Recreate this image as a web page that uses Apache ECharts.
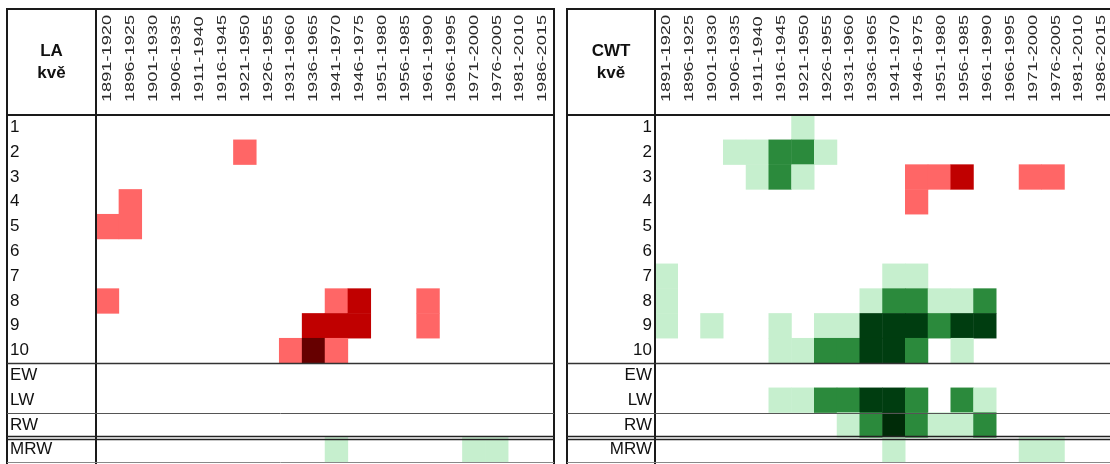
<!DOCTYPE html>
<html>
<head>
<meta charset="utf-8">
<script src="https://cdn.jsdelivr.net/npm/echarts@6/dist/echarts.min.js"></script>
<style>
  html, body { margin: 0; padding: 0; background: #ffffff; }
  #chart { width: 1110px; height: 464px; }
</style>
</head>
<body>
<div id="chart"></div>
<script>
// 30-year windows shown as columns
const periods = [
  '1891-1920', '1896-1925', '1901-1930', '1906-1935', '1911-1940',
  '1916-1945', '1921-1950', '1926-1955', '1931-1960', '1936-1965',
  '1941-1970', '1946-1975', '1951-1980', '1956-1985', '1961-1990',
  '1966-1995', '1971-2000', '1976-2005', '1981-2010', '1986-2015'
];

// rows: ten-day periods 1..10 and wood/ring variables
const rowNames = ['1', '2', '3', '4', '5', '6', '7', '8', '9', '10', 'EW', 'LW', 'RW', 'MRW'];

// significance level per cell: negative = red shades, positive = green shades, 0 = empty
const laLevels = [
  [ 0, 0, 0, 0, 0, 0, 0, 0, 0, 0, 0, 0, 0, 0, 0, 0, 0, 0, 0, 0],
  [ 0, 0, 0, 0, 0, 0,-1, 0, 0, 0, 0, 0, 0, 0, 0, 0, 0, 0, 0, 0],
  [ 0, 0, 0, 0, 0, 0, 0, 0, 0, 0, 0, 0, 0, 0, 0, 0, 0, 0, 0, 0],
  [ 0,-1, 0, 0, 0, 0, 0, 0, 0, 0, 0, 0, 0, 0, 0, 0, 0, 0, 0, 0],
  [-1,-1, 0, 0, 0, 0, 0, 0, 0, 0, 0, 0, 0, 0, 0, 0, 0, 0, 0, 0],
  [ 0, 0, 0, 0, 0, 0, 0, 0, 0, 0, 0, 0, 0, 0, 0, 0, 0, 0, 0, 0],
  [ 0, 0, 0, 0, 0, 0, 0, 0, 0, 0, 0, 0, 0, 0, 0, 0, 0, 0, 0, 0],
  [-1, 0, 0, 0, 0, 0, 0, 0, 0, 0,-1,-2, 0, 0,-1, 0, 0, 0, 0, 0],
  [ 0, 0, 0, 0, 0, 0, 0, 0, 0,-2,-2,-2, 0, 0,-1, 0, 0, 0, 0, 0],
  [ 0, 0, 0, 0, 0, 0, 0, 0,-1,-3,-1, 0, 0, 0, 0, 0, 0, 0, 0, 0],
  [ 0, 0, 0, 0, 0, 0, 0, 0, 0, 0, 0, 0, 0, 0, 0, 0, 0, 0, 0, 0],
  [ 0, 0, 0, 0, 0, 0, 0, 0, 0, 0, 0, 0, 0, 0, 0, 0, 0, 0, 0, 0],
  [ 0, 0, 0, 0, 0, 0, 0, 0, 0, 0, 0, 0, 0, 0, 0, 0, 0, 0, 0, 0],
  [ 0, 0, 0, 0, 0, 0, 0, 0, 0, 0, 1, 0, 0, 0, 0, 0, 1, 1, 0, 0]
];

const cwtLevels = [
  [ 0, 0, 0, 0, 0, 0, 1, 0, 0, 0, 0, 0, 0, 0, 0, 0, 0, 0, 0, 0],
  [ 0, 0, 0, 1, 1, 2, 2, 1, 0, 0, 0, 0, 0, 0, 0, 0, 0, 0, 0, 0],
  [ 0, 0, 0, 0, 1, 2, 1, 0, 0, 0, 0,-1,-1,-2, 0, 0,-1,-1, 0, 0],
  [ 0, 0, 0, 0, 0, 0, 0, 0, 0, 0, 0,-1, 0, 0, 0, 0, 0, 0, 0, 0],
  [ 0, 0, 0, 0, 0, 0, 0, 0, 0, 0, 0, 0, 0, 0, 0, 0, 0, 0, 0, 0],
  [ 0, 0, 0, 0, 0, 0, 0, 0, 0, 0, 0, 0, 0, 0, 0, 0, 0, 0, 0, 0],
  [ 1, 0, 0, 0, 0, 0, 0, 0, 0, 0, 1, 1, 0, 0, 0, 0, 0, 0, 0, 0],
  [ 1, 0, 0, 0, 0, 0, 0, 0, 0, 1, 2, 2, 1, 1, 2, 0, 0, 0, 0, 0],
  [ 1, 0, 1, 0, 0, 1, 0, 1, 1, 3, 3, 3, 2, 3, 3, 0, 0, 0, 0, 0],
  [ 0, 0, 0, 0, 0, 1, 1, 2, 2, 3, 3, 2, 0, 1, 0, 0, 0, 0, 0, 0],
  [ 0, 0, 0, 0, 0, 0, 0, 0, 0, 0, 0, 0, 0, 0, 0, 0, 0, 0, 0, 0],
  [ 0, 0, 0, 0, 0, 1, 1, 2, 2, 3, 3, 2, 0, 2, 1, 0, 0, 0, 0, 0],
  [ 0, 0, 0, 0, 0, 0, 0, 0, 1, 2, 4, 2, 1, 1, 2, 0, 0, 0, 0, 0],
  [ 0, 0, 0, 0, 0, 0, 0, 0, 0, 0, 1, 0, 0, 0, 0, 0, 1, 1, 0, 0]
];

const levelPieces = [
  { value: -3, color: '#660000' },
  { value: -2, color: '#c00000' },
  { value: -1, color: '#ff6666' },
  { value: 1, color: '#c6efce' },
  { value: 2, color: '#2b8a3c' },
  { value: 3, color: '#003d10' },
  { value: 4, color: '#002b08' }
];

// table layout
const gridTop = 115;
const colW = 22.9;
const rowH = 24.8;
const boxTop = 9;
const tables = [
  { title: 'LA', levels: laLevels, boxLeft: 7, gridLeft: 96, labelAlign: 'left' },
  { title: 'CWT', levels: cwtLevels, boxLeft: 567, gridLeft: 655, labelAlign: 'right' }
];

const font = '"Liberation Sans", Arial, sans-serif';

function cells(levels) {
  const out = [];
  levels.forEach((row, r) => row.forEach((v, c) => { if (v !== 0) out.push([c, r, v]); }));
  return out;
}

const grids = [], xAxes = [], yAxes = [], series = [];
tables.forEach((t, i) => {
  grids.push({ left: t.gridLeft, top: gridTop, width: colW * periods.length, height: rowH * rowNames.length });
  xAxes.push({
    type: 'category', gridIndex: i, data: periods, position: 'top',
    axisLine: { show: false }, axisTick: { show: false }, splitLine: { show: false },
    axisLabel: { show: false }
  });
  yAxes.push({
    type: 'category', gridIndex: i, data: rowNames, inverse: true,
    axisLine: { show: false }, axisTick: { show: false }, splitLine: { show: false },
    axisLabel: {
      align: t.labelAlign,
      margin: t.labelAlign === 'left' ? t.gridLeft - t.boxLeft - 3 : 3,
      fontFamily: font, fontSize: 17, color: '#111'
    }
  });
  series.push({
    type: 'heatmap', xAxisIndex: i, yAxisIndex: i, data: cells(t.levels),
    itemStyle: { borderWidth: 0 }, emphasis: { disabled: true }, silent: true
  });
});

const chart = echarts.init(document.getElementById('chart'), null, { renderer: 'canvas' });

function line(x1, y1, x2, y2, w, c) {
  return { type: 'line', z: 100, silent: true, shape: { x1, y1, x2, y2 }, style: { stroke: c, lineWidth: w } };
}

function tableGraphics() {
  const els = [];
  const bottom = 470;
  tables.forEach(t => {
    const right = t.gridLeft + colW * periods.length;
    const rowY = k => gridTop + k * rowH;
    // outer frame, label column divider, header rule
    els.push({ type: 'rect', z: 100, silent: true,
      shape: { x: t.boxLeft, y: boxTop, width: right - t.boxLeft, height: bottom - boxTop },
      style: { fill: 'none', stroke: '#1a1a1a', lineWidth: 2 } });
    els.push(line(t.gridLeft, boxTop, t.gridLeft, bottom, 2, '#1a1a1a'));
    els.push(line(t.boxLeft, gridTop, right, gridTop, 2, '#1a1a1a'));
    // group separators
    const y10 = Math.round(rowY(10)) + 0.5;
    els.push(line(t.boxLeft, y10, right, y10, 1.5, '#333'));
    const yLW = Math.round(rowY(12)) + 0.5;
    els.push(line(t.boxLeft, yLW, right, yLW, 1, '#555'));
    const yRW = Math.round(rowY(13)) - 0.5;
    els.push(line(t.boxLeft, yRW, right, yRW, 1.5, '#222'));
    els.push(line(t.boxLeft, yRW + 3, right, yRW + 3, 1.5, '#222'));
    const yEnd = Math.round(rowY(14)) + 0.5;
    els.push(line(t.boxLeft, yEnd, right, yEnd, 1, '#888'));
    // header title
    const cx = (t.boxLeft + t.gridLeft) / 2;
    [[t.title, 51], ['kvě', 73]].forEach(([txt, y]) => {
      els.push({ type: 'text', z: 101, silent: true, x: cx, y: y,
        style: { text: txt, fontFamily: font, fontSize: 17, fontWeight: 'bold', fill: '#111',
          align: 'center', verticalAlign: 'middle', textAlign: 'center', textVerticalAlign: 'middle' } });
    });
    // vertical period labels
    periods.forEach((p, i) => {
      els.push({ type: 'text', z: 101, silent: true,
        x: t.gridLeft + (i + 0.5) * colW, y: 102,
        rotation: Math.PI / 2, scaleX: 1.4, scaleY: 1.05,
        style: { text: p, fontFamily: font, fontSize: 13, fill: '#2a2a2a',
          align: 'left', verticalAlign: 'middle', textAlign: 'left', textVerticalAlign: 'middle' } });
    });
  });
  return els;
}

chart.setOption({
  backgroundColor: '#ffffff',
  animation: false,
  grid: grids,
  xAxis: xAxes,
  yAxis: yAxes,
  visualMap: {
    type: 'piecewise', show: false, dimension: 2, seriesIndex: [0, 1],
    pieces: levelPieces
  },
  series: series,
  graphic: { elements: tableGraphics() }
});
</script>
</body>
</html>
